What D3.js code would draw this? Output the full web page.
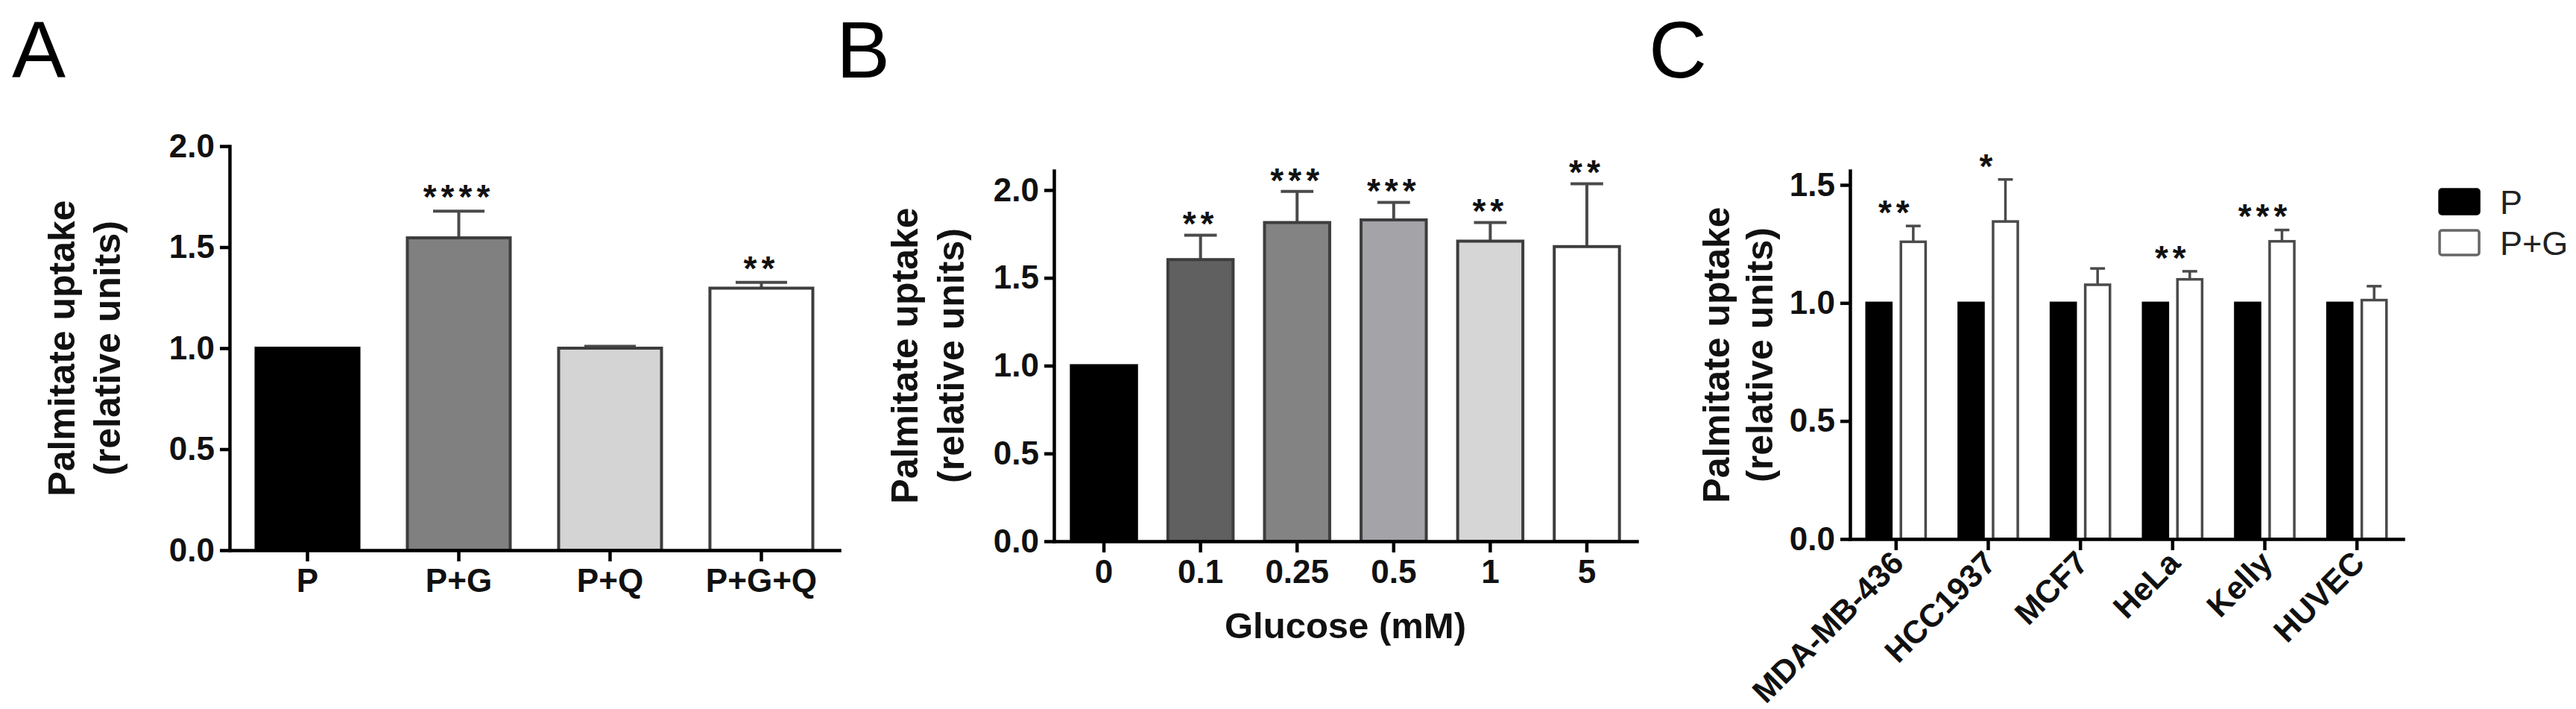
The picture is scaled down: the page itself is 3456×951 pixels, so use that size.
<!DOCTYPE html>
<html>
<head>
<meta charset="utf-8">
<script src="https://cdn.jsdelivr.net/npm/d3@7"></script>
<style>
  html, body { margin: 0; padding: 0; background: #ffffff; }
  svg { display: block; }
</style>
</head>
<body>
<script>
// ---------- DATA ----------
// Panel A
const catsA = ["P", "P+G", "P+Q", "P+G+Q"];
const valuesA = [1.0, 1.546, 1.0, 1.297];
const errorsA = [0, 0.132, 0.009, 0.029];
const sigA = ["", "****", "", "**"];
const colorsA = ["#000000", "#808080", "#d4d4d4", "#ffffff"];
const yTicksA = [0, 0.5, 1.0, 1.5, 2.0];

// Panel B
const catsB = ["0", "0.1", "0.25", "0.5", "1", "5"];
const valuesB = [1.0, 1.604, 1.815, 1.830, 1.709, 1.678];
const errorsB = [0, 0.139, 0.177, 0.100, 0.106, 0.358];
const sigB = ["", "**", "***", "***", "**", "**"];
const colorsB = ["#000000", "#606060", "#838383", "#a4a3a8", "#d6d6d6", "#ffffff"];
const yTicksB = [0, 0.5, 1.0, 1.5, 2.0];
const xTitleB = "Glucose (mM)";

// Panel C
const catsC = ["MDA-MB-436", "HCC1937", "MCF7", "HeLa", "Kelly", "HUVEC"];
const seriesC = ["P", "P+G"];
const valuesC_P = [1.0, 1.0, 1.0, 1.0, 1.0, 1.0];
const valuesC_PG = [1.259, 1.345, 1.077, 1.100, 1.261, 1.012];
const errorsC_PG = [0.067, 0.178, 0.069, 0.034, 0.048, 0.059];
const sigC = ["**", "*", "", "**", "***", ""];
const colorsC = ["#000000", "#ffffff"];
const yTicksC = [0, 0.5, 1.0, 1.5];

const yTitleLines = ["Palmitate uptake", "(relative units)"];
const panelLetters = ["A", "B", "C"];

// ---------- DRAWING ----------
const W = 3456, H = 951;
const FONT = "'Liberation Sans', Arial, Helvetica, sans-serif";
const svg = d3.select("body").append("svg").attr("width", W).attr("height", H)
  .style("background", "#ffffff");

const fmt = d3.format(".1f");

function styleAxis(g) {
  g.attr("font-family", FONT).attr("font-size", 44).attr("font-weight", "bold");
  g.selectAll(".domain").attr("stroke", "#000").attr("stroke-width", 4.5).attr("stroke-linecap", "square");
  g.selectAll(".tick line").attr("stroke", "#000").attr("stroke-width", 4.5);
  g.selectAll(".tick text").attr("fill", "#111");
}

function yTitle(x1, x2, yc) {
  [x1, x2].forEach((x, i) => {
    svg.append("text")
      .attr("transform", `translate(${x},${yc}) rotate(-90)`)
      .attr("text-anchor", "middle")
      .attr("font-family", FONT).attr("font-size", 50).attr("font-weight", "bold")
      .attr("fill", "#111")
      .text(yTitleLines[i]);
  });
}

function stars(x, y, s) {
  if (!s) return;
  svg.append("text")
    .attr("x", x).attr("y", y + 26)
    .attr("text-anchor", "middle")
    .attr("font-family", FONT).attr("font-size", 46).attr("font-weight", "bold")
    .attr("letter-spacing", 6)
    .attr("fill", "#111")
    .text(s);
}

function errBar(xc, yTop, yErr, capW, color, sw) {
  svg.append("line").attr("x1", xc).attr("x2", xc).attr("y1", yTop).attr("y2", yErr)
    .attr("stroke", color).attr("stroke-width", sw);
  svg.append("line").attr("x1", xc - capW / 2).attr("x2", xc + capW / 2).attr("y1", yErr).attr("y2", yErr)
    .attr("stroke", color).attr("stroke-width", sw);
}

// Panel letters
const letterX = [16, 1122, 2212];
panelLetters.forEach((L, i) => {
  svg.append("text").attr("x", letterX[i]).attr("y", 104)
    .attr("font-family", FONT).attr("font-size", 108)
    .attr("font-weight", 400).attr("fill", "#000").text(L);
});

// ----- Panel A -----
{
  const x = d3.scaleBand().domain(catsA).range([308, 1126]).paddingInner(0.32).paddingOuter(0.175);
  const y = d3.scaleLinear().domain([0, 2]).range([738, 196]);
  const bw = x.bandwidth();
  catsA.forEach((c, i) => {
    if (errorsA[i] > 0) {
      errBar(x(c) + bw / 2, y(valuesA[i]), y(valuesA[i] + errorsA[i]), bw / 2, "#4a4a4a", 4);
    }
    svg.append("rect").attr("x", x(c)).attr("y", y(valuesA[i]))
      .attr("width", bw).attr("height", y(0) - y(valuesA[i]))
      .attr("fill", colorsA[i]).attr("stroke", i === 0 ? "#000" : "#3d3d3d").attr("stroke-width", 4);
    stars(x(c) + bw / 2, y(valuesA[i] + errorsA[i]) - 29, sigA[i]);
  });
  svg.append("g").attr("transform", "translate(308,0)")
    .call(d3.axisLeft(y).tickValues(yTicksA).tickFormat(fmt).tickSize(13).tickPadding(7).tickSizeOuter(0))
    .call(styleAxis);
  svg.append("g").attr("transform", `translate(0,${y(0)})`)
    .call(d3.axisBottom(x).tickSize(15).tickPadding(10).tickSizeOuter(0))
    .call(styleAxis);
  yTitle(100, 161, 467);
}

// ----- Panel B -----
{
  const x = d3.scaleBand().domain(catsB).range([1414, 2196]).paddingInner(0.325).paddingOuter(0.18);
  const y = d3.scaleLinear().domain([0, 2.11]).range([726, 229]);
  const bw = x.bandwidth();
  catsB.forEach((c, i) => {
    if (errorsB[i] > 0) {
      errBar(x(c) + bw / 2, y(valuesB[i]), y(valuesB[i] + errorsB[i]), bw / 2, "#4a4a4a", 4);
    }
    svg.append("rect").attr("x", x(c)).attr("y", y(valuesB[i]))
      .attr("width", bw).attr("height", y(0) - y(valuesB[i]))
      .attr("fill", colorsB[i]).attr("stroke", i === 0 ? "#000" : "#3d3d3d").attr("stroke-width", 4);
    stars(x(c) + bw / 2, y(valuesB[i] + errorsB[i]) - 25, sigB[i]);
  });
  svg.append("g").attr("transform", "translate(1414,0)")
    .call(d3.axisLeft(y).tickValues(yTicksB).tickFormat(fmt).tickSize(13).tickPadding(7).tickSizeOuter(0))
    .call(styleAxis);
  svg.append("g").attr("transform", `translate(0,${y(0)})`)
    .call(d3.axisBottom(x).tickSize(15).tickPadding(10).tickSizeOuter(0))
    .call(styleAxis);
  svg.append("text").attr("x", (1414 + 2196) / 2).attr("y", 856)
    .attr("text-anchor", "middle")
    .attr("font-family", FONT).attr("font-size", 49).attr("font-weight", "bold").attr("fill", "#111")
    .text(xTitleB);
  yTitle(1231, 1293, 477);
}

// ----- Panel C -----
{
  const x0 = d3.scaleBand().domain(catsC).range([2482, 3224]).paddingInner(0.36).paddingOuter(0.18);
  const x1 = d3.scaleBand().domain(seriesC).range([0, x0.bandwidth()]).paddingInner(0.28);
  const y = d3.scaleLinear().domain([0, 1.56]).range([723, 229]);
  const bw = x1.bandwidth();
  catsC.forEach((c, i) => {
    const vals = [valuesC_P[i], valuesC_PG[i]];
    const xp = x0(c) + x1("P+G");
    errBar(xp + bw / 2, y(valuesC_PG[i]), y(valuesC_PG[i] + errorsC_PG[i]), bw * 0.6, "#4a4a4a", 3.5);
    seriesC.forEach((s, j) => {
      svg.append("rect").attr("x", x0(c) + x1(s)).attr("y", y(vals[j]))
        .attr("width", bw).attr("height", y(0) - y(vals[j]))
        .attr("fill", colorsC[j]).attr("stroke", j === 0 ? "#000" : "#4a4a4a").attr("stroke-width", 3.5);
    });
    stars(x0(c) + x0.bandwidth() / 2, y(valuesC_PG[i] + errorsC_PG[i]) - 28, sigC[i]);
  });
  svg.append("g").attr("transform", "translate(2482,0)")
    .call(d3.axisLeft(y).tickValues(yTicksC).tickFormat(fmt).tickSize(13).tickPadding(7).tickSizeOuter(0))
    .call(styleAxis);
  const gx = svg.append("g").attr("transform", `translate(0,${y(0)})`)
    .call(d3.axisBottom(x0).tickSize(15).tickPadding(10).tickSizeOuter(0))
    .call(styleAxis);
  gx.selectAll(".tick text")
    .attr("font-size", 43)
    .attr("text-anchor", "end")
    .attr("x", 2).attr("y", 24).attr("dy", "0.35em")
    .attr("transform", "rotate(-45, 2, 24)");
  yTitle(2320, 2378, 476);

  // Legend
  const lx = 3273, ly = [254, 309];
  seriesC.forEach((s, j) => {
    svg.append("rect").attr("x", lx).attr("y", ly[j]).attr("width", 53).attr("height", 33)
      .attr("rx", 3)
      .attr("fill", colorsC[j]).attr("stroke", j === 0 ? "#000" : "#666").attr("stroke-width", 3.5);
    svg.append("text").attr("x", 3354).attr("y", ly[j] + 33)
      .attr("font-family", FONT).attr("font-size", 45).attr("fill", "#222").text(s);
  });
}
</script>
</body>
</html>
